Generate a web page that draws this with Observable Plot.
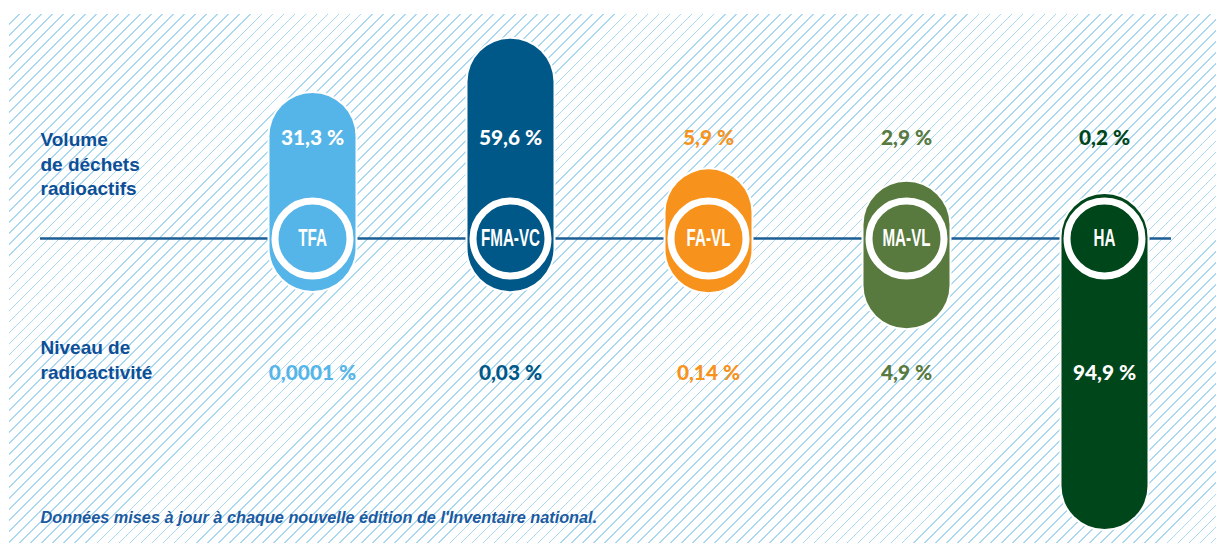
<!DOCTYPE html>
<html><head><meta charset="utf-8">
<script src="https://cdn.jsdelivr.net/npm/d3@7"></script>
<script src="https://cdn.jsdelivr.net/npm/@observablehq/plot@0.6"></script>
<style>
html,body{margin:0;padding:0;background:#fff;}
#wrap{position:relative;width:1216px;height:543px;overflow:hidden;}
#hatch{position:absolute;left:9px;top:14px;right:0;bottom:0;
  background:repeating-linear-gradient(135deg, rgba(255,255,255,0) 0px, rgba(255,255,255,0) 6.6px, #aad8f1 6.6px, #aad8f1 7.8px);}
#chart{position:absolute;left:0;top:0;}
</style></head><body>
<div id="wrap"><div id="hatch"></div><div id="chart"></div></div>
<script>
// ---- data ----
const categories = ["TFA", "FMA-VC", "FA-VL", "MA-VL", "HA"];
const volume = [31.3, 59.6, 5.9, 2.9, 0.2];               // % du volume de déchets
const radioactivity = [0.0001, 0.03, 0.14, 4.9, 94.9];    // % du niveau de radioactivité
const colors = ["#56b5e8", "#005888", "#f7931d", "#587a3f", "#00461b"];
const rowLabels = ["Volume\nde déchets\nradioactifs", "Niveau de\nradioactivité"];
const note = "Données mises à jour à chaque nouvelle édition de l'Inventaire national.";

// ---- encodings (infographic uses a compressed, log-like length scale) ----
const upLen = d3.scaleSymlog().constant(30).domain([0, 100]).range([0, 142.8 * Math.log1p(100 / 30)]);
const downScale = d3.scaleSymlog().constant(12).domain([0, 100]).range([0, 108.8 * Math.log1p(100 / 12)]);
const stub = 10;
const downLen = v => stub + downScale(v);
const fmt = v => String(v).replace(".", ",") + " %";

const R = 43;              // pill half width (px)
const baseY = 238;         // baseline pixel row
const upLabelY = 138, downLabelY = 373;

const rows = categories.map((c, i) => {
  const top = upLen(volume[i]);
  const bottom = -downLen(radioactivity[i]);
  return {
    cat: c, vol: volume[i], rad: radioactivity[i], color: colors[i], top, bottom,
    upFill: (baseY - top - R) < upLabelY - 14 ? "white" : colors[i],
    downFill: (baseY - bottom + R) > downLabelY + 14 ? "white" : colors[i]
  };
});

const blue = "#0d4f96";
const pctFont = "Lato, 'Open Sans', sans-serif";
const sansFont = "'Liberation Sans', Arial, sans-serif";

const svg = Plot.plot({
  width: 1216, height: 543,
  marginLeft: 40, marginRight: 45, marginTop: 0, marginBottom: 0,
  style: {background: "transparent", overflow: "visible"},
  x: {type: "point", domain: categories, range: [311, 1105], padding: 0, axis: null},
  y: {domain: [-305, 238], range: [543, 0], axis: null},
  color: {type: "identity"},
  marks: [
    Plot.ruleY([0], {stroke: "#1b5e96", strokeWidth: 2.5}),
    Plot.ruleX(rows, {x: "cat", y1: "bottom", y2: "top", stroke: "white", strokeWidth: 2 * R + 4, strokeLinecap: "round"}),
    Plot.ruleX(rows, {x: "cat", y1: "bottom", y2: "top", stroke: "color", strokeWidth: 2 * R, strokeLinecap: "round"}),
    Plot.dot(rows, {x: "cat", y: () => 0, r: 37.5, fill: "color", stroke: "white", strokeWidth: 7}),
    Plot.text(rows, {x: "cat", y: () => 0, text: "cat", fill: "white", fontSize: 24.5, fontWeight: "bold",
      fontFamily: sansFont}),
    Plot.text(rows, {x: "cat", text: d => fmt(d.vol), frameAnchor: "top", lineAnchor: "middle", dy: upLabelY, fill: "upFill",
      fontSize: 20.8, fontWeight: 900, fontFamily: pctFont}),
    Plot.text(rows, {x: "cat", text: d => fmt(d.rad), frameAnchor: "top", lineAnchor: "middle", dy: downLabelY, fill: "downFill",
      fontSize: 20.8, fontWeight: 900, fontFamily: pctFont}),
    Plot.text([rowLabels[0]], {frameAnchor: "top-left", dy: 128, lineAnchor: "top", textAnchor: "start",
      fill: blue, fontSize: 19, fontWeight: "bold", fontFamily: sansFont, lineHeight: 1.3}),
    Plot.text([rowLabels[1]], {frameAnchor: "top-left", dy: 336, lineAnchor: "top", textAnchor: "start",
      fill: blue, fontSize: 19, fontWeight: "bold", fontFamily: sansFont, lineHeight: 1.3}),
    Plot.text([note], {frameAnchor: "top-left", dy: 517, lineAnchor: "middle", textAnchor: "start",
      fill: "#1a5aa0", fontSize: 16.3, fontWeight: "bold", fontStyle: "italic", fontFamily: sansFont})
  ]
});

// condense the category labels inside the rings
svg.querySelectorAll("text").forEach(t => {
  if (!categories.includes(t.textContent)) return;
  const tr = t.getAttribute("transform");
  if (tr) {
    t.setAttribute("transform", tr + " scale(0.62,1)");
  } else {
    const x = +t.getAttribute("x") || 0, y = +t.getAttribute("y") || 0;
    t.removeAttribute("x"); t.removeAttribute("y");
    t.setAttribute("transform", `translate(${x},${y}) scale(0.62,1)`);
  }
});

document.getElementById("chart").appendChild(svg);
</script>
</body></html>
